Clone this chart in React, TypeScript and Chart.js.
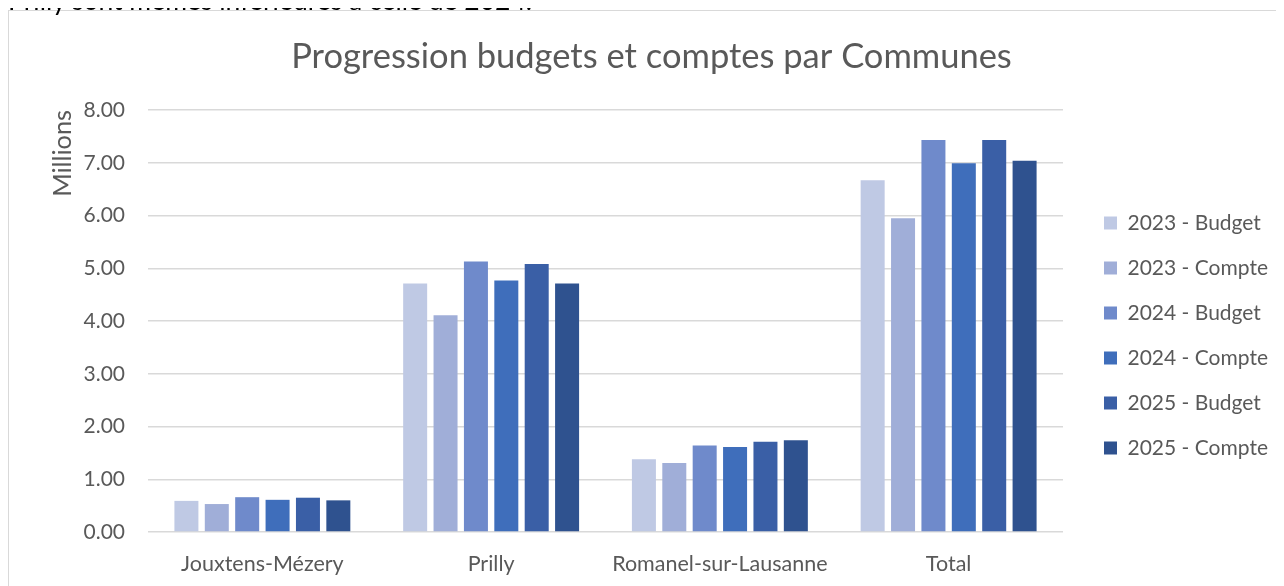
import React, { useEffect, useRef } from 'react';
import { Chart, registerables } from 'chart.js';

Chart.register(...registerables);

const categories = ['Jouxtens-Mézery', 'Prilly', 'Romanel-sur-Lausanne', 'Total'];
const seriesNames = ['2023 - Budget', '2023 - Compte', '2024 - Budget', '2024 - Compte', '2025 - Budget', '2025 - Compte'];
const budget2023 = [0.59, 4.71, 1.38, 6.67];
const compte2023 = [0.53, 4.11, 1.31, 5.95];
const budget2024 = [0.66, 5.13, 1.64, 7.43];
const compte2024 = [0.61, 4.77, 1.61, 6.99];
const budget2025 = [0.65, 5.08, 1.71, 7.43];
const compte2025 = [0.60, 4.71, 1.74, 7.04];
const seriesColors = ['#BFC9E4', '#A0AED8', '#6F8ACB', '#3F6EBB', '#3A5FA6', '#2F528F'];
const yMin = 0;
const yMax = 8;
const yStep = 1;

const chartTitle = 'Progression budgets et comptes par Communes';
const yTitle = 'Millions';
const leadText = 'Prilly sont mêmes inférieures à celle de 2024.';

export default function App() {
  const ref = useRef<HTMLCanvasElement>(null);

  useEffect(() => {
    document.documentElement.style.overflow = 'hidden';
    const seriesValues = [budget2023, compte2023, budget2024, compte2024, budget2025, compte2025];
    const chart = new Chart(ref.current as HTMLCanvasElement, {
      type: 'bar',
      data: {
        labels: categories,
        datasets: seriesNames.map((name, i) => ({
          label: name,
          data: seriesValues[i],
          backgroundColor: seriesColors[i],
          borderWidth: 0,
          categoryPercentage: 0.797,
          barPercentage: 0.79,
        })),
      },
      options: {
        responsive: false,
        animation: false,
        devicePixelRatio: 1,
        layout: { padding: { left: 19, right: 0, top: 0, bottom: 9 } },
        font: { family: 'Lato' },
        color: '#595959',
        plugins: {
          tooltip: { enabled: false },
          title: {
            display: true,
            text: chartTitle,
            color: '#595959',
            font: { family: 'Lato', size: 34.5, weight: 'normal', lineHeight: 1.2 },
            padding: { top: 25.3, bottom: 32.3 },
          },
          legend: {
            position: 'right',
            fullSize: false,
            maxWidth: 195,
            title: { display: true, text: ' ', font: { size: 29, lineHeight: 1 }, padding: 0 },
            labels: {
              boxWidth: 13,
              boxHeight: 13,
              padding: 24,
              color: '#595959',
              font: { family: 'Lato', size: 21 },
            },
          },
        },
        scales: {
          x: {
            afterFit: (s: any) => { s.height = 45; },
            grid: { display: false, drawTicks: false },
            border: { display: false },
            ticks: { color: '#595959', font: { family: 'Lato', size: 21.5 }, padding: 19.4, maxRotation: 0 },
          },
          y: {
            min: yMin,
            max: yMax,
            afterFit: (s: any) => { s.width = 120; },
            border: { display: false },
            grid: { color: '#D9D9D9', lineWidth: 1.5, drawTicks: false },
            ticks: {
              stepSize: yStep,
              padding: 23,
              color: '#595959',
              font: { family: 'Lato', size: 21 },
              callback: (v: any) => Number(v).toFixed(2),
            },
            title: {
              display: true,
              text: yTitle,
              align: 'end',
              color: '#595959',
              font: { family: 'Lato', size: 25.3 },
              padding: { top: 19.5, bottom: 0 },
            },
          },
          spacer: {
            type: 'linear',
            position: 'right',
            display: true,
            afterFit: (s: any) => { s.width = 17; },
            grid: { display: false },
            border: { display: false },
            ticks: { display: false },
          },
        },
      } as any,
    });
    return () => chart.destroy();
  }, []);

  return (
    <div>
      <div style={{ position: 'relative', height: 2 }}>
        <div
          style={{
            position: 'absolute',
            left: 0,
            top: -20.9,
            fontFamily: 'Lato',
            fontSize: 26.5,
            lineHeight: '26.5px',
            color: '#000',
            whiteSpace: 'nowrap',
          }}
        >
          {leadText}
        </div>
      </div>
      <div
        style={{
          borderTop: '1px solid #D9D9D9',
          borderLeft: '1px solid #D9D9D9',
          width: 1300,
          height: 600,
        }}
      >
        <canvas ref={ref} width={1266} height={575} style={{ display: 'block', width: 1266, height: 575 }} />
      </div>
    </div>
  );
}
